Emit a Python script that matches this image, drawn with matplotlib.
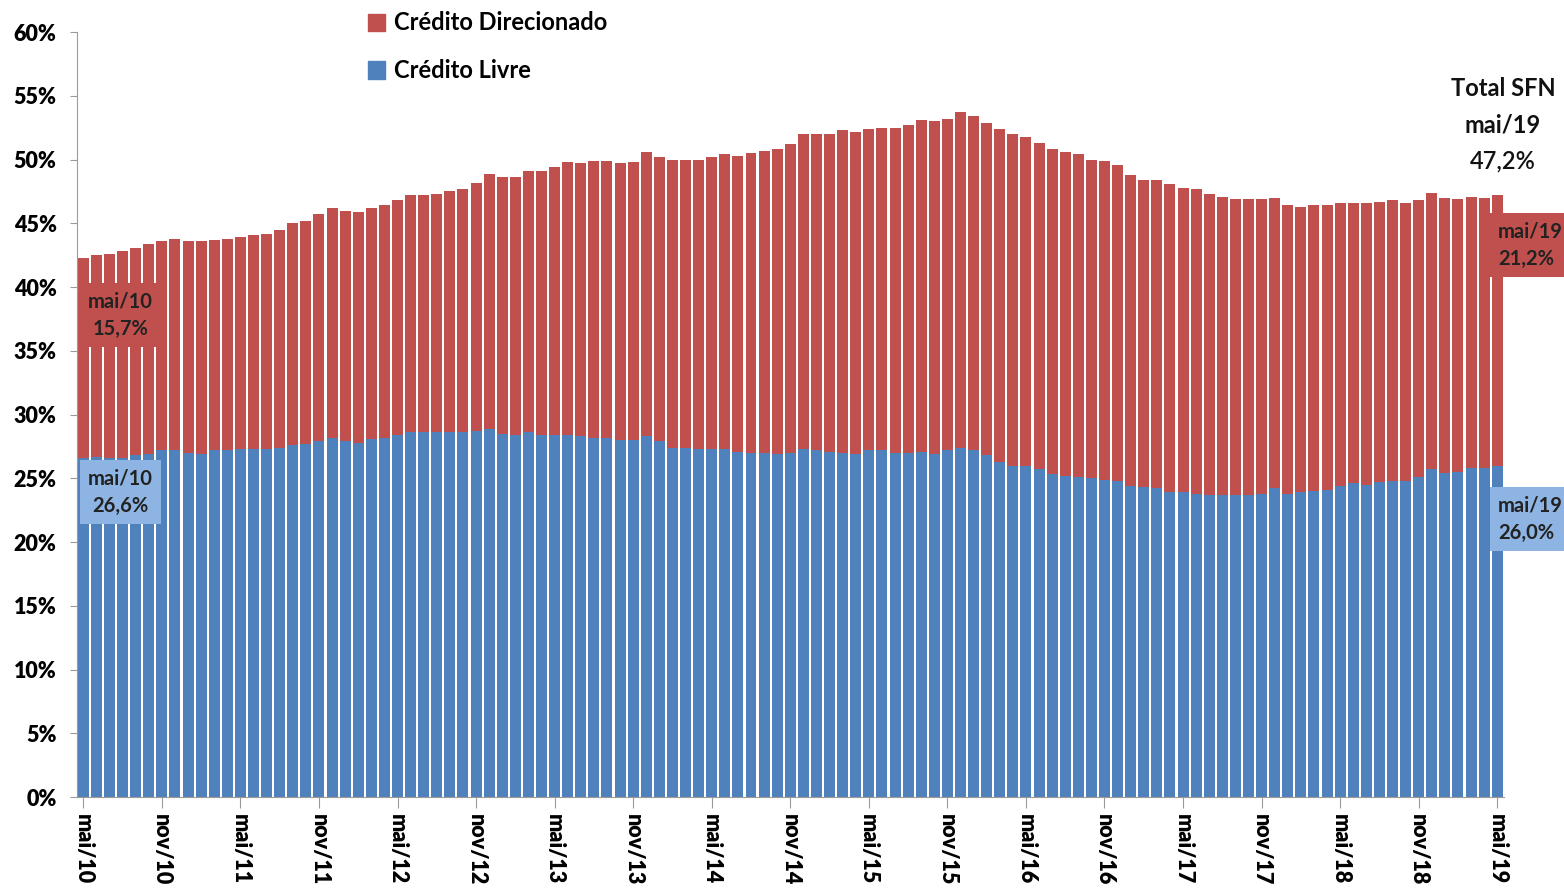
import matplotlib.pyplot as plt
from matplotlib.patches import Patch

# Crédito / PIB, monthly from mai/10 to mai/19 (% of GDP)
credito_livre = [
    26.6, 26.7, 26.6, 26.6, 26.8, 26.9, 27.2, 27.2, 27.0, 26.9, 27.2, 27.2,
    27.3, 27.3, 27.3, 27.4, 27.6, 27.7, 27.9, 28.2, 27.9, 27.8, 28.1, 28.2,
    28.4, 28.6, 28.6, 28.6, 28.6, 28.6, 28.7, 28.9, 28.5, 28.4, 28.6, 28.4,
    28.4, 28.4, 28.3, 28.2, 28.2, 28.0, 28.0, 28.3, 27.9, 27.4, 27.4, 27.3,
    27.3, 27.3, 27.1, 27.0, 27.0, 26.9, 27.0, 27.3, 27.2, 27.1, 27.0, 26.9,
    27.2, 27.2, 27.0, 27.0, 27.1, 26.9, 27.2, 27.4, 27.2, 26.8, 26.3, 26.0,
    26.0, 25.7, 25.3, 25.2, 25.1, 25.0, 24.9, 24.8, 24.4, 24.3, 24.2, 23.9,
    23.9, 23.8, 23.7, 23.7, 23.7, 23.7, 23.8, 24.2, 23.8, 23.9, 24.0, 24.1,
    24.4, 24.6, 24.5, 24.7, 24.8, 24.8, 25.1, 25.7, 25.4, 25.5, 25.8, 25.8,
    26.0,
]
credito_direcionado = [
    15.7, 15.8, 16.0, 16.2, 16.3, 16.5, 16.4, 16.6, 16.6, 16.7, 16.5, 16.6,
    16.6, 16.8, 16.9, 17.1, 17.4, 17.5, 17.8, 18.0, 18.1, 18.1, 18.1, 18.2,
    18.4, 18.6, 18.6, 18.7, 18.9, 19.1, 19.5, 20.0, 20.1, 20.2, 20.5, 20.7,
    21.0, 21.4, 21.4, 21.7, 21.7, 21.7, 21.8, 22.3, 22.3, 22.6, 22.6, 22.7,
    22.9, 23.1, 23.2, 23.5, 23.7, 23.9, 24.2, 24.7, 24.8, 24.9, 25.3, 25.3,
    25.2, 25.3, 25.5, 25.7, 26.0, 26.1, 26.0, 26.3, 26.2, 26.1, 26.1, 26.0,
    25.8, 25.6, 25.5, 25.4, 25.3, 25.0, 25.0, 24.8, 24.4, 24.1, 24.2, 24.2,
    23.9, 23.9, 23.6, 23.4, 23.2, 23.2, 23.1, 22.8, 22.6, 22.4, 22.4, 22.3,
    22.2, 22.0, 22.1, 22.0, 22.0, 21.8, 21.7, 21.7, 21.6, 21.4, 21.3, 21.2,
    21.2,
]
tick_labels = ['mai/10', 'nov/10', 'mai/11', 'nov/11', 'mai/12', 'nov/12',
               'mai/13', 'nov/13', 'mai/14', 'nov/14', 'mai/15', 'nov/15',
               'mai/16', 'nov/16', 'mai/17', 'nov/17', 'mai/18', 'nov/18',
               'mai/19']
y_ticks = [0, 5, 10, 15, 20, 25, 30, 35, 40, 45, 50, 55, 60]

RED = '#C0504D'
BLUE = '#4F81BD'
LIGHT_BLUE = '#8DB4E2'
plt.rcParams['font.family'] = ['Lato', 'DejaVu Sans']

fig = plt.figure(figsize=(15.64, 8.92), dpi=100)
ax = fig.add_axes([0.0495, 0.1065, 0.912, 0.8575])

x = list(range(len(credito_livre)))
ax.bar(x, credito_livre, width=0.84, color=BLUE, linewidth=0)
ax.bar(x, credito_direcionado, width=0.84, bottom=credito_livre, color=RED, linewidth=0)

ax.set_xlim(-0.45, 108.5)
ax.set_ylim(0, 60)
ax.set_yticks(y_ticks)
ax.set_yticklabels([f'{v}%' for v in y_ticks], fontsize=15.5, fontweight='heavy')
ax.set_xticks(x[::6])
ax.set_xticklabels(tick_labels, rotation=270, fontsize=15.5, fontweight='heavy',
                   va='top', ha='center')
for s in ['top', 'right']:
    ax.spines[s].set_visible(False)
for s in ['left', 'bottom']:
    ax.spines[s].set_color('#9a9a9a')
ax.tick_params(axis='y', length=5, color='#9a9a9a', pad=10)
ax.tick_params(axis='x', length=8, color='#9a9a9a', pad=4)

# legend
handles = [Patch(color=RED, label='Crédito Direcionado'),
           Patch(color=BLUE, label='Crédito Livre')]
fig.legend(handles=handles, loc='upper left', bbox_to_anchor=(0.2215, 1.011),
           frameon=False, prop={'size': 17, 'weight': 'bold'},
           handlelength=0.75, handleheight=0.75, handletextpad=0.35,
           labelspacing=1.05)

# annotations
box_font = dict(fontsize=14.5, fontweight='bold', color='#222222', linespacing=1.5)
ax.text(2.85, 37.8, f'mai/10\n{credito_direcionado[0]:.1f}%'.replace('.', ','),
        ha='center', va='center', zorder=5, **box_font,
        bbox=dict(boxstyle='square,pad=0.4', fc=RED, ec='none'))
ax.text(2.85, 23.9, f'mai/10\n{credito_livre[0]:.1f}%'.replace('.', ','),
        ha='center', va='center', zorder=5, **box_font,
        bbox=dict(boxstyle='square,pad=0.4', fc=LIGHT_BLUE, ec='none'))
ax.text(108.05, 43.3, f'mai/19\n{credito_direcionado[-1]:.1f}%'.replace('.', ','),
        ha='left', va='center', zorder=5, clip_on=False, **box_font,
        bbox=dict(boxstyle='square,pad=0.4', fc=RED, ec='none'))
ax.text(108.05, 21.8, f'mai/19\n{credito_livre[-1]:.1f}%'.replace('.', ','),
        ha='left', va='center', zorder=5, clip_on=False, **box_font,
        bbox=dict(boxstyle='square,pad=0.4', fc=LIGHT_BLUE, ec='none'))

total = credito_livre[-1] + credito_direcionado[-1]
fig.text(0.961, 0.901, 'Total SFN', ha='center', va='center', fontsize=17,
         fontweight='bold', color='#111111')
fig.text(0.961, 0.860, 'mai/19', ha='center', va='center', fontsize=17,
         fontweight='bold', color='#111111')
fig.text(0.961, 0.820, f'{total:.1f}%'.replace('.', ','), ha='center',
         va='center', fontsize=17, fontweight='semibold', color='#111111')

fig.savefig('out.png', dpi=100)
